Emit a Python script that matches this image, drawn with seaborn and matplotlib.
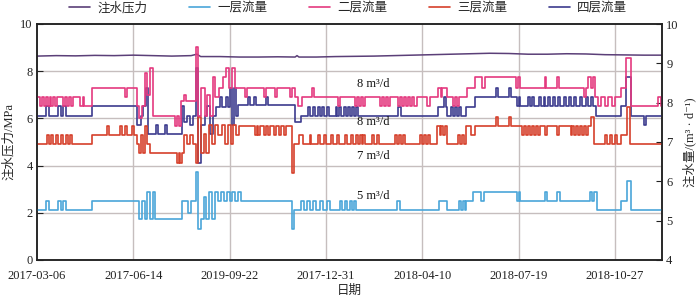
import matplotlib
matplotlib.use('Agg')
import matplotlib.pyplot as plt
from matplotlib.lines import Line2D
import seaborn as sns
import pandas as pd

# ---------------- data ----------------
x_tick_days = [0, 100, 200, 300, 400, 500, 600]
x_tick_labels = ['2017-03-06', '2017-06-14', '2019-09-22', '2017-12-31',
                 '2018-04-10', '2018-07-19', '2018-10-27']

series_names = ['注水压力', '一层流量', '二层流量', '三层流量', '四层流量']

# injection pressure (MPa), (day, value)
pressure = [(0, 8.64), (20, 8.66), (40, 8.65), (60, 8.67), (80, 8.66), (100, 8.68),
            (120, 8.66), (140, 8.64), (160, 8.66), (166, 8.72), (170, 8.62), (190, 8.62),
            (210, 8.60), (230, 8.60), (250, 8.61), (268, 8.60), (270, 8.66), (272, 8.60),
            (290, 8.60), (310, 8.62), (330, 8.63), (350, 8.64), (370, 8.66), (390, 8.68),
            (410, 8.70), (430, 8.72), (450, 8.74), (470, 8.76), (490, 8.75), (510, 8.72),
            (530, 8.72), (550, 8.74), (570, 8.73), (590, 8.70), (610, 8.69), (630, 8.68),
            (650, 8.68)]

# layer flows (m3/d), step change points (day, value)
layer1 = [(0, 5.27), (9, 5.5), (12, 5.27), (22, 5.5), (25, 5.27), (27, 5.5), (30, 5.27),
          (57, 5.5), (106, 5.03), (109, 5.5), (112, 5.03), (114, 5.74), (117, 5.03),
          (120, 5.74), (123, 5.03), (151, 5.5), (157, 5.2), (160, 5.5), (165, 6.25),
          (167, 4.8), (170, 5.03), (173, 5.6), (176, 5.03), (179, 5.74), (182, 5.03),
          (185, 5.74), (188, 5.5), (191, 5.74), (194, 5.5), (197, 5.74), (200, 5.5),
          (203, 5.74), (206, 5.5), (209, 5.74), (212, 5.5), (265, 4.8), (267, 5.27),
          (274, 5.5), (277, 5.27), (280, 5.5), (283, 5.27), (287, 5.5), (290, 5.27),
          (294, 5.5), (297, 5.27), (301, 5.5), (304, 5.27), (315, 5.5), (317, 5.27),
          (320, 5.5), (322, 5.27), (325, 5.5), (327, 5.27), (329, 5.5), (331, 5.27),
          (374, 5.5), (377, 5.27), (417, 5.5), (426, 5.27), (438, 5.5), (440, 5.27),
          (442, 5.5), (444, 5.27), (445, 5.5), (453, 5.74), (461, 5.5), (464, 5.74),
          (498, 5.5), (500, 5.74), (502, 5.5), (527, 5.74), (530, 5.5), (540, 5.74),
          (543, 5.5), (574, 5.74), (576, 5.5), (578, 5.74), (581, 5.27), (606, 5.5),
          (613, 6.0), (617, 5.27), (650, 5.27)]

layer2 = [(0, 8.14), (3, 7.92), (5, 8.14), (7, 7.92), (9, 8.14), (11, 7.92), (13, 8.14),
          (15, 7.92), (17, 8.14), (19, 7.92), (21, 8.14), (27, 7.92), (29, 8.14), (31, 7.92),
          (33, 8.14), (35, 7.92), (37, 8.14), (45, 7.92), (48, 8.14), (49, 7.92), (57, 8.38),
          (91, 8.14), (93, 8.38), (104, 7.92), (106, 7.61), (109, 7.92), (112, 8.75),
          (114, 8.2), (117, 8.88), (120, 7.66), (143, 7.4), (145, 7.66), (147, 7.4),
          (150, 8.03), (153, 8.2), (155, 8.03), (165, 9.42), (167, 7.66), (170, 8.38),
          (174, 7.66), (177, 8.2), (180, 7.66), (183, 8.66), (185, 8.14), (189, 8.38),
          (193, 8.66), (196, 8.88), (199, 8.38), (202, 8.88), (206, 8.38), (216, 8.14),
          (218, 8.38), (236, 8.14), (238, 8.38), (247, 8.14), (249, 8.38), (263, 8.14),
          (265, 8.38), (268, 8.14), (271, 7.92), (275, 8.14), (286, 8.38), (288, 8.14),
          (313, 7.92), (315, 8.14), (330, 7.92), (332, 8.14), (334, 7.92), (336, 8.14),
          (338, 7.92), (341, 8.14), (356, 7.92), (358, 8.14), (360, 7.92), (362, 8.14),
          (364, 7.92), (367, 8.14), (375, 7.92), (377, 8.14), (379, 7.92), (381, 8.14),
          (383, 7.92), (385, 8.14), (387, 7.92), (389, 8.14), (391, 7.92), (395, 8.14),
          (405, 7.92), (408, 8.14), (416, 8.38), (419, 8.14), (421, 8.38), (426, 8.14),
          (432, 7.92), (434, 8.14), (436, 7.92), (438, 8.14), (447, 8.38), (455, 8.64),
          (462, 8.38), (465, 8.64), (497, 8.38), (499, 8.64), (502, 8.38), (527, 8.64),
          (529, 8.38), (540, 8.64), (542, 8.38), (568, 8.14), (570, 8.38), (572, 8.64),
          (575, 8.38), (577, 8.64), (579, 8.14), (583, 7.92), (586, 8.14), (590, 7.92),
          (593, 8.14), (597, 7.92), (600, 8.14), (606, 8.38), (612, 9.13), (617, 7.92),
          (645, 8.14), (648, 7.92), (650, 7.92)]

layer3 = [(0, 6.95), (10, 7.18), (12, 6.95), (15, 7.18), (17, 6.95), (20, 7.18), (22, 6.95),
          (25, 7.18), (27, 6.95), (30, 7.18), (32, 6.95), (34, 7.18), (36, 6.95), (57, 7.18),
          (73, 7.41), (75, 7.18), (86, 7.41), (88, 7.18), (91, 7.41), (93, 7.18), (99, 7.41),
          (101, 7.18), (104, 6.95), (106, 6.72), (108, 7.18), (110, 6.72), (112, 7.41),
          (114, 6.95), (117, 6.72), (145, 6.47), (147, 6.72), (149, 6.47), (151, 6.72),
          (153, 7.18), (156, 6.95), (159, 7.18), (162, 6.95), (165, 6.47), (167, 7.64),
          (170, 6.72), (173, 7.2), (176, 6.72), (179, 7.43), (182, 6.95), (185, 7.43),
          (188, 7.18), (192, 7.43), (195, 6.95), (198, 7.43), (201, 6.95), (204, 7.43),
          (207, 7.18), (210, 7.41), (226, 7.18), (228, 7.41), (230, 7.18), (232, 7.41),
          (236, 7.18), (238, 7.41), (240, 7.18), (242, 7.41), (246, 7.18), (248, 7.41),
          (251, 7.18), (253, 7.41), (257, 7.18), (259, 7.41), (265, 6.2), (267, 6.95),
          (272, 7.18), (276, 6.95), (283, 7.18), (285, 6.95), (292, 7.18), (294, 6.95),
          (298, 7.18), (300, 6.95), (305, 7.18), (307, 6.95), (312, 7.18), (314, 6.95),
          (320, 7.18), (322, 6.95), (326, 7.18), (328, 6.95), (331, 7.18), (333, 6.95),
          (335, 7.18), (337, 6.95), (339, 7.18), (341, 6.95), (348, 7.18), (350, 6.95),
          (353, 7.18), (355, 6.95), (372, 7.18), (374, 6.95), (376, 7.18), (378, 6.95),
          (380, 7.18), (382, 6.95), (398, 7.18), (400, 6.95), (402, 7.18), (404, 6.95),
          (406, 7.18), (408, 6.95), (415, 7.41), (418, 7.18), (420, 7.41), (422, 7.18),
          (424, 7.41), (426, 6.95), (437, 7.18), (439, 6.95), (441, 7.18), (443, 6.95),
          (445, 7.41), (451, 7.18), (455, 7.41), (477, 7.64), (479, 7.41), (490, 7.64),
          (492, 7.41), (504, 7.18), (506, 7.41), (508, 7.18), (510, 7.41), (512, 7.18),
          (514, 7.41), (516, 7.18), (518, 7.41), (520, 7.18), (522, 7.41), (528, 7.18),
          (530, 7.41), (540, 7.18), (542, 7.41), (554, 7.18), (556, 7.41), (558, 7.18),
          (560, 7.41), (562, 7.18), (564, 7.41), (566, 7.18), (568, 7.41), (570, 7.18),
          (572, 7.41), (575, 7.64), (578, 6.95), (590, 7.18), (592, 6.95), (595, 7.18),
          (597, 6.95), (600, 7.18), (602, 6.95), (606, 7.18), (613, 7.9), (616, 6.95),
          (650, 6.95)]

layer4 = [(0, 7.66), (9, 7.92), (12, 7.66), (22, 7.92), (25, 7.66), (27, 7.92), (30, 7.66),
          (57, 7.92), (104, 7.43), (108, 7.66), (110, 7.92), (113, 8.38), (115, 7.2),
          (124, 7.43), (126, 7.2), (133, 7.43), (135, 7.2), (151, 7.92), (153, 7.5),
          (156, 7.66), (159, 7.43), (162, 7.66), (165, 8.88), (167, 6.47), (170, 7.43),
          (174, 7.66), (177, 7.92), (180, 7.2), (183, 7.66), (186, 7.9), (190, 8.14),
          (192, 7.9), (196, 8.14), (198, 7.9), (200, 8.38), (202, 7.43), (205, 8.38),
          (207, 7.66), (209, 7.94), (219, 8.14), (221, 7.94), (225, 8.14), (227, 7.94),
          (238, 8.14), (240, 7.94), (268, 7.5), (274, 7.66), (281, 7.9), (283, 7.66),
          (287, 7.9), (289, 7.66), (292, 7.9), (294, 7.66), (296, 7.9), (298, 7.66),
          (301, 7.9), (303, 7.66), (310, 7.9), (312, 7.66), (314, 7.9), (316, 7.66),
          (319, 7.9), (321, 7.66), (323, 7.9), (325, 7.66), (327, 7.9), (329, 7.66),
          (331, 7.9), (333, 7.66), (375, 7.9), (378, 7.66), (416, 7.9), (423, 8.14),
          (425, 7.9), (426, 7.66), (430, 7.9), (432, 7.66), (434, 7.9), (436, 7.66),
          (438, 7.9), (440, 7.66), (445, 7.9), (455, 8.14), (477, 8.38), (479, 8.14),
          (490, 8.38), (492, 8.14), (498, 7.92), (500, 8.14), (502, 7.92), (510, 8.14),
          (512, 7.92), (514, 8.14), (516, 7.92), (521, 8.14), (523, 7.92), (526, 8.14),
          (528, 7.92), (531, 8.14), (533, 7.92), (536, 8.14), (538, 7.92), (541, 8.14),
          (543, 7.92), (547, 8.14), (549, 7.92), (552, 8.14), (554, 7.92), (558, 8.14),
          (560, 7.92), (564, 8.14), (566, 7.92), (570, 8.14), (572, 7.92), (575, 8.14),
          (577, 7.92), (580, 7.66), (606, 7.92), (612, 8.64), (617, 7.66), (630, 7.43),
          (632, 7.66), (650, 7.66)]

annotations = [('8 m³/d', 349, 8.47), ('8 m³/d', 349, 7.51),
               ('7 m³/d', 349, 6.64), ('5 m³/d', 349, 5.63)]

colors = {'注水压力': '#5b3f78', '一层流量': '#4aa6d9', '二层流量': '#e4397f',
          '三层流量': '#d6402b', '四层流量': '#3c3b8e'}

# ---------------- style ----------------
sns.set_theme(style='white')
plt.rcParams['font.family'] = ['Liberation Serif', 'Noto Sans CJK SC', 'DejaVu Serif']
plt.rcParams['axes.unicode_minus'] = False
FS = 9

fig = plt.figure(figsize=(7.0, 3.01), dpi=100)
ax = fig.add_axes([37 / 700, 41 / 301, 625 / 700, 236 / 301])
ax2 = ax.twinx()

grid_c = '#c6bebe'
for d in x_tick_days[1:]:
    ax.axvline(d, color=grid_c, lw=1.0, zorder=0)
for v in [2, 4, 6, 8]:
    ax.axhline(v, color=grid_c, lw=1.0, zorder=0)

df_p = pd.DataFrame(pressure, columns=['day', 'value'])
sns.lineplot(data=df_p, x='day', y='value', ax=ax, color=colors['注水压力'], lw=1.1,
             estimator=None, sort=False, legend=False)

flow_series = [('四层流量', layer4), ('三层流量', layer3), ('一层流量', layer1), ('二层流量', layer2)]
for name, pairs in flow_series:
    df = pd.DataFrame(pairs, columns=['day', 'value'])
    sns.lineplot(data=df, x='day', y='value', ax=ax2, color=colors[name], lw=1.2,
                 drawstyle='steps-post', estimator=None, sort=False, legend=False)

ax.set_xlim(0, 649)
ax.set_ylim(0, 10)
ax2.set_ylim(4, 10)
ax.set_xticks(x_tick_days)
ax.set_xticklabels(x_tick_labels, fontsize=FS)
ax.set_yticks([0, 2, 4, 6, 8, 10])
ax.set_yticklabels(['0', '2', '4', '6', '8', '10'], fontsize=FS)
ax2.set_yticks([4, 5, 6, 7, 8, 9, 10])
ax2.set_yticklabels(['4', '5', '6', '7', '8', '9', '10'], fontsize=FS)
ax.grid(False)
ax2.grid(False)

for a in (ax, ax2):
    for s in a.spines.values():
        s.set_color('#222222')
        s.set_linewidth(1.1)
ax.tick_params(axis='y', direction='in', length=4, width=0.8, color='#222222',
               pad=3, labelsize=FS, colors='#222222')
ax.tick_params(axis='x', direction='in', length=4, width=0.8, color='#222222',
               pad=7, labelsize=FS, colors='#222222')
ax2.tick_params(axis='y', direction='in', length=4, width=0.8, color='#222222',
                pad=3, labelsize=FS, colors='#222222')

ax.set_xlabel('日期', fontsize=FS, labelpad=2)
ax.set_ylabel('注水压力/MPa', fontsize=FS, labelpad=4)
ax2.set_ylabel('注水量/(m³ · d⁻¹)', fontsize=FS, labelpad=3)

for txt, d, v in annotations:
    ax2.text(d, v, txt, fontsize=FS, ha='center', va='center', color='#111111')

handles = [Line2D([0], [0], color=colors[n], lw=1.2) for n in series_names]
fig.legend(handles, series_names, loc='center', bbox_to_anchor=(0.497, 0.972), ncol=5,
           frameon=False, fontsize=FS, handlelength=1.7, handletextpad=0.6,
           columnspacing=3.3, borderpad=0.1)

fig.savefig('out.png', dpi=100)
